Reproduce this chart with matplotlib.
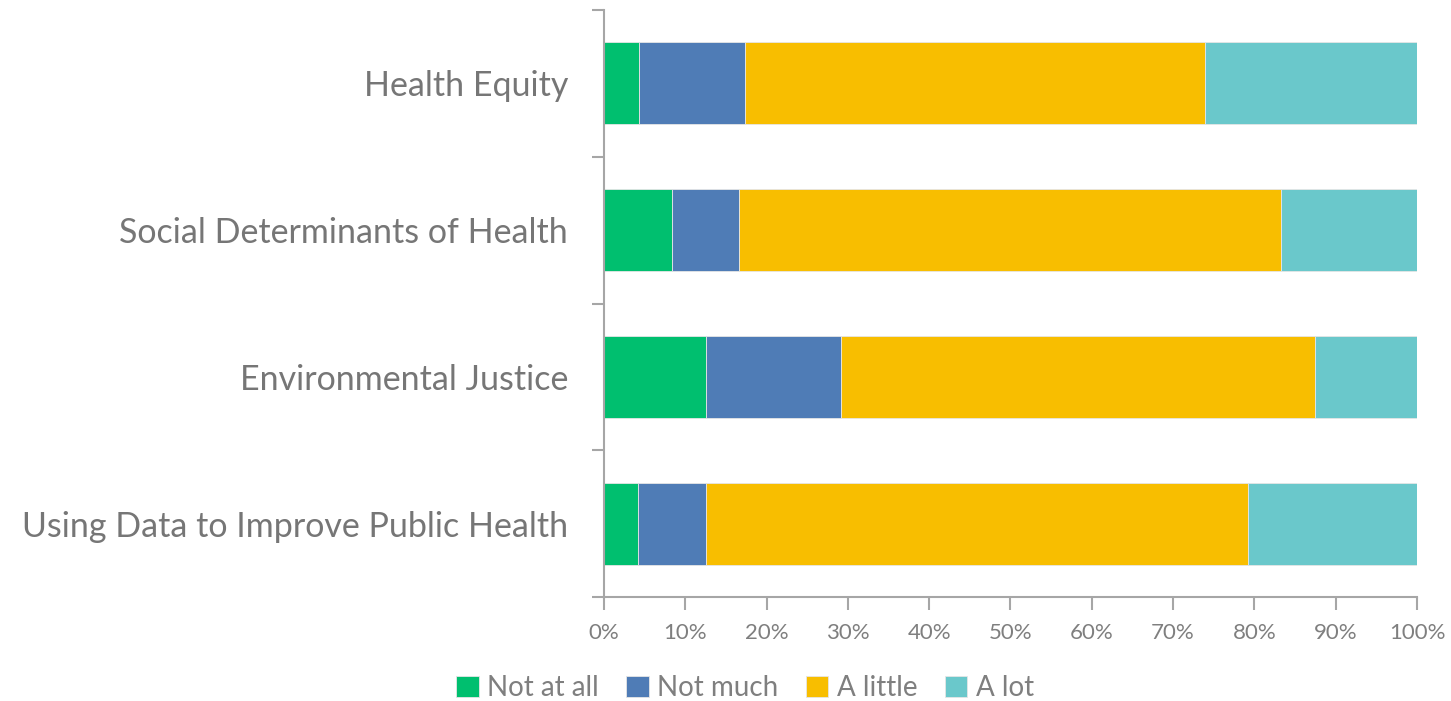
import matplotlib
matplotlib.use("Agg")
import matplotlib.pyplot as plt
from matplotlib.ticker import PercentFormatter

categories = ["Health Equity", "Social Determinants of Health", "Environmental Justice",
              "Using Data to Improve Public Health"]
series_names = ["Not at all", "Not much", "A little", "A lot"]
not_at_all = [4.35, 8.33, 12.5, 4.17]
not_much = [13.04, 8.33, 16.67, 8.33]
a_little = [56.52, 66.67, 58.33, 66.67]
a_lot = [26.09, 16.67, 12.5, 20.83]
colors = ["#00BF6F", "#4F7CB6", "#F8BE00", "#6AC8CB"]
xticks = list(range(0, 101, 10))

plt.rcParams['font.family'] = ['Lato', 'DejaVu Sans']
fig = plt.figure(figsize=(14.51, 7.01), dpi=100)
ax = fig.add_axes([604/1451, 1-597/701, (1417-604)/1451, (597-10)/701])

n = len(categories)
ypos = list(range(n))[::-1]
left = [0]*n
for name, vals, c in zip(series_names, [not_at_all, not_much, a_little, a_lot], colors):
    ax.barh(ypos, vals, left=left, height=0.56, color=c, edgecolor="#E6E6E6", linewidth=0.6, label=name)
    left = [l+v for l, v in zip(left, vals)]

ax.set_xlim(0, 100)
ax.set_ylim(-0.5, n-0.5)
ax.set_xticks(xticks)
ax.xaxis.set_major_formatter(PercentFormatter(decimals=0))
ax.set_yticks(ypos)
ax.set_yticklabels(categories)
ax.set_yticks([i-0.5 for i in range(n+1)], minor=True)
ax.tick_params(axis='y', which='major', length=0, pad=26, labelsize=24.5, labelcolor="#767676")
ax.tick_params(axis='y', which='minor', length=9, width=1.5, color="#A6A6A6")
ax.tick_params(axis='x', length=9, width=1.5, color="#A6A6A6", direction='out', labelsize=16,
               labelcolor="#7F7F7F", pad=10)
for s in ["top", "right"]:
    ax.spines[s].set_visible(False)
for s in ["left", "bottom"]:
    ax.spines[s].set_color("#A6A6A6")
    ax.spines[s].set_linewidth(1.5)

handles, labels = ax.get_legend_handles_labels()
fig.legend(handles, labels, loc="center", bbox_to_anchor=(745/1451, 1-688/701), ncol=4,
           frameon=False, fontsize=20, labelcolor="#7F7F7F", handlelength=0.8, handleheight=0.8,
           handletextpad=0.3, columnspacing=1.0)

fig.savefig("out.png", dpi=100)
